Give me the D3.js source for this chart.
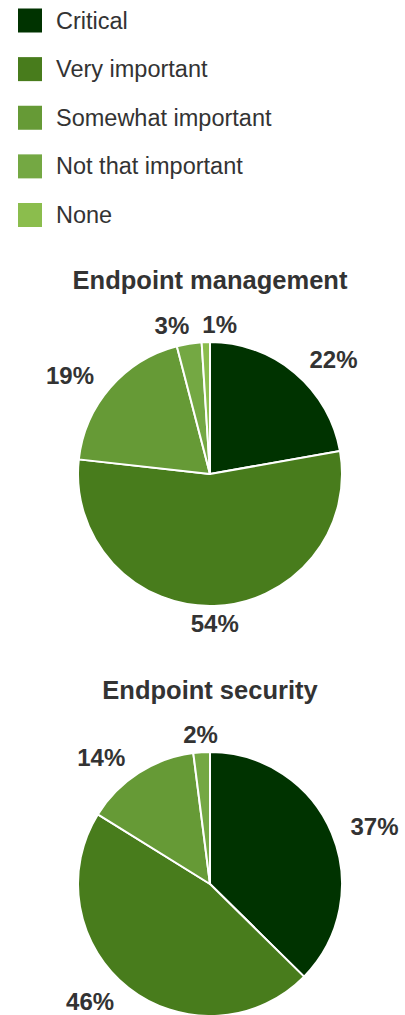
<!doctype html>
<html>
<head>
<script src="https://d3js.org/d3.v7.min.js"></script>
<style>
  body { margin: 0; background: #fff; }
  text { font-family: "Liberation Sans", Arial, Helvetica, sans-serif; fill: #333; }
  .legendtext { font-size: 23.5px; }
  .title { font-size: 25.5px; font-weight: bold; }
  .plabel { font-size: 24px; font-weight: bold; }
</style>
</head>
<body>
<script>
// categories and values
var categories = ["Critical", "Very important", "Somewhat important", "Not that important", "None"];
var colors = ["#003300", "#487c1c", "#669a36", "#74a843", "#8bbd4d"];
var chartTitles = ["Endpoint management", "Endpoint security"];
var managementValues = [22, 54, 19, 3, 1];
var securityValues = [37, 46, 14, 2, 0];

var width = 405, height = 1015;
var radius = 132;
var labelRadius = 150;

var svg = d3.select("body").append("svg")
  .attr("width", width).attr("height", height);

var color = d3.scaleOrdinal().domain(categories).range(colors);

// legend
var rowY = d3.scalePoint().domain(categories).range([20.5, 215]);
var legend = svg.append("g").selectAll(".legend").data(categories).enter()
  .append("g").attr("class", "legend")
  .attr("transform", function(d) { return "translate(18," + rowY(d) + ")"; });
legend.append("rect").attr("x", 0).attr("y", -12).attr("width", 24).attr("height", 24)
  .style("fill", function(d) { return color(d); });
legend.append("text").attr("class", "legendtext").attr("x", 38).attr("y", 8).text(function(d) { return d; });

var pie = d3.pie().sort(null).value(function(d) { return d.v; });
var arc = d3.arc().innerRadius(0).outerRadius(radius);

function drawPie(title, values, cx, cy, titleY) {
  var data = categories.map(function(c, i) { return { c: c, v: values[i] }; });
  svg.append("text").attr("class", "title").attr("x", cx).attr("y", titleY)
    .attr("text-anchor", "middle").text(title);

  var g = svg.append("g").attr("transform", "translate(" + cx + "," + cy + ")");
  var arcs = pie(data).filter(function(d) { return d.data.v > 0; });

  g.selectAll("path").data(arcs).enter().append("path")
    .attr("d", arc)
    .style("fill", function(d) { return color(d.data.c); })
    .style("stroke", "#fff").style("stroke-width", 2).style("stroke-linejoin", "round");

  var capH = 17;
  var labels = g.selectAll(".plabel").data(arcs).enter().append("text")
    .attr("class", "plabel").attr("text-anchor", "middle")
    .text(function(d) { return d.data.v + "%"; });

  // y from the slice's mid angle; x so the near edge sits on the label ring
  var boxes = [];
  labels.each(function(d) {
    var w = this.getComputedTextLength();
    var a = (d.startAngle + d.endAngle) / 2;
    var s = Math.sin(a), c = Math.cos(a);
    var y = -labelRadius * c;
    var x;
    if (Math.abs(s) < 0.3) {
      x = labelRadius * s;
    } else {
      var e = Math.sqrt(Math.max(0, (labelRadius + 2) * (labelRadius + 2) - y * y));
      x = s > 0 ? e + w / 2 : -e - w / 2;
    }
    boxes.push({ node: this, x: x, y: y, w: w });
  });

  // spread labels that crowd each other
  for (var i = 0; i < boxes.length; i++) {
    for (var j = i + 1; j < boxes.length; j++) {
      var b1 = boxes[i], b2 = boxes[j];
      if (Math.abs(b1.y - b2.y) > capH + 6) continue;
      var need = (b1.w + b2.w) / 2 + 13;
      if (Math.abs(b1.x - b2.x) < need) {
        var mid = (b1.x + b2.x) / 2;
        var left = b1.x < b2.x ? b1 : b2, right = left === b1 ? b2 : b1;
        left.x = mid - need / 2;
        right.x = mid + need / 2;
      }
    }
  }

  boxes.forEach(function(b) {
    d3.select(b.node).attr("x", b.x).attr("y", b.y + capH / 2);
  });
}

drawPie(chartTitles[0], managementValues, 210, 474, 289);
drawPie(chartTitles[1], securityValues, 210, 884, 699);
</script>
</body>
</html>
